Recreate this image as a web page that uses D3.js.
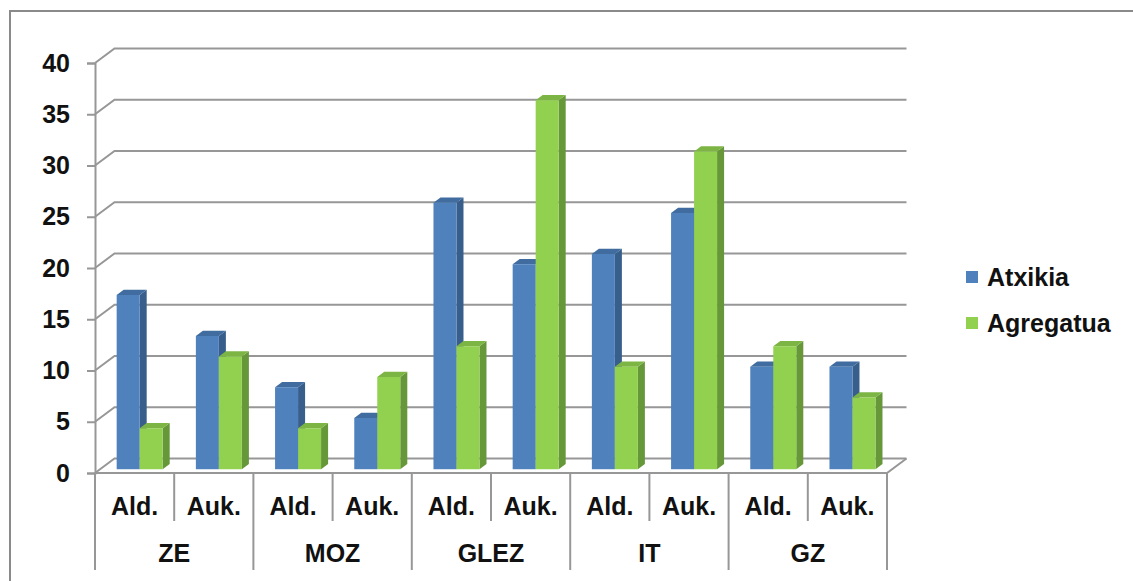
<!DOCTYPE html>
<html>
<head>
<meta charset="utf-8">
<script src="https://cdn.jsdelivr.net/npm/d3@7"></script>
<style>
  html, body { margin: 0; padding: 0; background: #fff; }
  svg { display: block; }
  text { font-family: "Liberation Sans", Arial, sans-serif; font-weight: bold; fill: #111; }
</style>
</head>
<body>
<svg id="chart" width="1133" height="581"></svg>
<script>
// ---- data ----
const groups = ["ZE", "MOZ", "GLEZ", "IT", "GZ"];
const subs = ["Ald.", "Auk."];
const seriesNames = ["Atxikia", "Agregatua"];
const atxikia   = [17, 13, 8, 5, 26, 20, 21, 25, 10, 10];
const agregatua = [4, 11, 4, 9, 12, 36, 10, 31, 12, 7];
const yTicks = [0, 5, 10, 15, 20, 25, 30, 35, 40];

(function () {
// ---- layout ----
const W = 1133, H = 581;
const plotL = 95, plotR = 887, plotT = 63, plotB = 473;
const DX = 19.5, DY = 14.5;          // full depth offset of back wall
const f0 = 0.26, f1 = 0.62;          // bar front / back depth fractions
const colors = {
  Atxikia:   { front: "#4F81BD", side: "#385E8C", top: "#416C9F" },
  Agregatua: { front: "#92D050", side: "#66983A", top: "#7DB544" }
};
const gridColor = "#979797";

const svg = d3.select("#chart");

// outer border
svg.append("rect").attr("x", 10).attr("y", 11).attr("width", W + 20).attr("height", H + 20)
  .attr("fill", "none").attr("stroke", "#8a8a8a").attr("stroke-width", 2);

const keys = [];
groups.forEach(g => subs.forEach(s => keys.push(g + "|" + s)));

const x = d3.scaleBand().domain(keys).range([plotL, plotR]).padding(0);
const y = d3.scaleLinear().domain([0, 40]).range([plotB, plotT]);
const barW = 23;
const pOuter = (x.bandwidth() / barW - 2) / 2;
const x1 = d3.scaleBand().domain(seriesNames).range([0, x.bandwidth()]).paddingInner(0).paddingOuter(pOuter);

// gridlines (diagonal on left side wall + horizontal on back wall)
const grid = svg.append("g");
yTicks.forEach(t => {
  const yy = y(t);
  grid.append("path")
    .attr("d", `M${plotL},${yy} L${plotL + DX},${yy - DY} L${plotR + DX},${yy - DY}`)
    .attr("fill", "none").attr("stroke", gridColor).attr("stroke-width", 2);
});
// floor front edge and right edge
grid.append("path")
  .attr("d", `M${plotL},${y(0)} L${plotR},${y(0)} L${plotR + DX},${y(0) - DY}`)
  .attr("fill", "none").attr("stroke", gridColor).attr("stroke-width", 2);

// y axis
const yAxis = d3.axisLeft(y).tickValues(yTicks).tickSize(8).tickPadding(17).tickFormat(d3.format("d"));
const gy = svg.append("g").attr("transform", `translate(${plotL},0)`).call(yAxis);
gy.select(".domain").attr("stroke", gridColor).attr("stroke-width", 2);
gy.selectAll(".tick line").attr("stroke", gridColor).attr("stroke-width", 2);
gy.selectAll(".tick text").attr("font-size", 25).attr("font-family", "Liberation Sans, Arial, sans-serif")
  .attr("font-weight", "bold").attr("fill", "#111");

// category axis separators
const sepG = svg.append("g");
for (let k = 0; k <= keys.length; k++) {
  const xx = k < keys.length ? x(keys[k]) : plotR;
  const outer = k % 2 === 0;
  sepG.append("line").attr("x1", xx).attr("x2", xx)
    .attr("y1", y(0)).attr("y2", outer ? 570 : 521)
    .attr("stroke", gridColor).attr("stroke-width", 2);
}
// sub labels
keys.forEach(k => {
  svg.append("text").attr("x", x(k) + x.bandwidth() / 2).attr("y", 515)
    .attr("text-anchor", "middle").attr("font-size", 25).text(k.split("|")[1]);
});
// group labels
groups.forEach(g => {
  const x0 = x(g + "|" + subs[0]);
  svg.append("text").attr("x", x0 + x.bandwidth()).attr("y", 562)
    .attr("text-anchor", "middle").attr("font-size", 25).text(g);
});

// bars
const barsG = svg.append("g");
const seriesVals = { Atxikia: atxikia, Agregatua: agregatua };
keys.forEach((k, i) => {
  seriesNames.forEach(s => {
    const v = seriesVals[s][i];
    const xa = x(k) + x1(s), xb = xa + x1.bandwidth();
    const yt = y(v), yb = y(0);
    const c = colors[s];
    const P = (px, py, f) => [px + DX * f, py - DY * f];
    const poly = pts => "M" + pts.map(p => p.join(",")).join("L") + "Z";
    barsG.append("path").attr("fill", c.side)
      .attr("d", poly([P(xb, yt, f0), P(xb, yt, f1), P(xb, yb, f1), P(xb, yb, f0)]));
    barsG.append("path").attr("fill", c.top)
      .attr("d", poly([P(xa, yt, f0), P(xa, yt, f1), P(xb, yt, f1), P(xb, yt, f0)]));
    const [fx, fy] = P(xa, yt, f0);
    barsG.append("rect").attr("x", fx).attr("y", fy)
      .attr("width", xb - xa).attr("height", yb - yt).attr("fill", c.front);
  });
});

// legend
const lg = svg.append("g");
seriesNames.forEach((s, i) => {
  const cy = 277 + i * 46;
  lg.append("rect").attr("x", 966).attr("y", cy - 6).attr("width", 12).attr("height", 12)
    .attr("fill", colors[s].front);
  lg.append("text").attr("x", 987).attr("y", cy + 9).attr("font-size", 25).text(s);
});
})();
</script>
</body>
</html>
